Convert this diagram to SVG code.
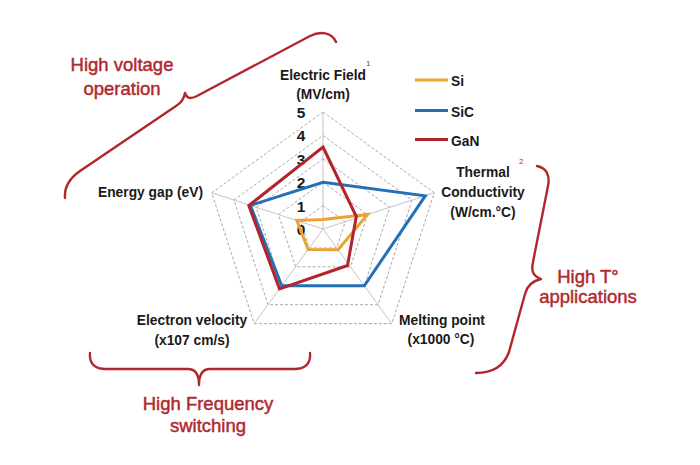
<svg xmlns="http://www.w3.org/2000/svg" width="700" height="465" viewBox="0 0 700 465">
<style>
.lbl{font-family:"Liberation Sans",Arial,sans-serif;font-weight:bold;font-size:13.8px;fill:#1a1a1a}
.num{font-family:"Liberation Sans",Arial,sans-serif;font-weight:bold;font-size:15.5px;fill:#1a1a1a;text-anchor:middle}
.red{font-family:"Liberation Sans",Arial,sans-serif;font-size:18.5px;fill:#b0282e;stroke:#b0282e;stroke-width:0.45;text-anchor:middle}
.sup{font-family:"Liberation Sans",Arial,sans-serif;font-size:8px;fill:#b0282e}
.axis{stroke:#c4c4c4;stroke-width:1;fill:none}
.grid{stroke:#a8a8a8;stroke-width:1;fill:none;stroke-dasharray:3 2}
.brace{stroke:#b0282e;stroke-width:2.4;fill:none;stroke-linecap:round;stroke-linejoin:round}
.si{stroke:#eba234;stroke-width:3;fill:none;stroke-linejoin:miter}
.sic{stroke:#2470b6;stroke-width:3;fill:none;stroke-linejoin:miter}
.gan{stroke:#b3232b;stroke-width:3;fill:none;stroke-linejoin:miter}
</style>
<rect width="700" height="465" fill="#ffffff"/>
<g id="grid">
<polygon class="grid" points="323,205.6 345.25,221.77 336.76,247.93 309.24,247.93 300.75,221.77"/>
<polygon class="grid" points="323,182.2 367.51,214.54 350.52,266.86 295.48,266.86 278.49,214.54"/>
<polygon class="grid" points="323,158.8 389.76,207.31 364.28,285.79 281.72,285.79 256.24,207.31"/>
<polygon class="grid" points="323,135.4 412.01,200.08 378.04,304.72 267.96,304.72 233.99,200.08"/>
<polygon class="grid" points="323,112 434.27,192.85 391.8,323.65 254.2,323.65 211.73,192.85"/>
<path class="axis" d="M323,229 L323,112 M323,229 L434.27,192.85 M323,229 L391.8,323.65 M323,229 L254.2,323.65 M323,229 L211.73,192.85"/>
</g>
<g id="scale">
<text class="num" x="301" y="117.5">5</text>
<text class="num" x="301" y="141">4</text>
<text class="num" x="301" y="164.5">3</text>
<text class="num" x="301" y="188">2</text>
<text class="num" x="301" y="211.5">1</text>
<text class="num" x="301" y="235">0</text>
</g>
<g id="series">
<polygon id="si" class="si" points="323,219.6 367.5,214.5 338.1,249.8 308.1,249.5 296.9,220.5"/>
<polygon id="sic" class="sic" points="323,182.2 425.3,195.8 364.3,285.8 281.7,285.8 250.4,205.4"/>
<polygon id="gan" class="gan" points="323,147 356.3,216.5 347.5,265.5 279.5,288.8 248.8,205.6"/>
</g>
<g id="axis-labels">
<text class="lbl" x="323" y="80" text-anchor="middle">Electric Field</text>
<text class="lbl" x="323" y="99" text-anchor="middle">(MV/cm)</text>
<text class="sup" x="366" y="66">1</text>
<text class="lbl" x="203" y="197" text-anchor="end">Energy gap (eV)</text>
<text class="lbl" x="483" y="177" text-anchor="middle">Thermal</text>
<text class="lbl" x="483" y="197" text-anchor="middle">Conductivity</text>
<text class="lbl" x="483" y="217" text-anchor="middle">(W/cm.°C)</text>
<text class="sup" x="519" y="164">2</text>
<text class="lbl" x="442" y="325" text-anchor="middle">Melting point</text>
<text class="lbl" x="441" y="344" text-anchor="middle">(x1000 °C)</text>
<text class="lbl" x="192" y="325" text-anchor="middle">Electron velocity</text>
<text class="lbl" x="192" y="345" text-anchor="middle">(x107 cm/s)</text>
</g>
<g id="legend">
<line x1="415" y1="80" x2="448" y2="80" stroke="#eba234" stroke-width="3"/>
<text class="lbl" x="451" y="86" font-size="14">Si</text>
<line x1="415" y1="110.5" x2="448" y2="110.5" stroke="#2470b6" stroke-width="3"/>
<text class="lbl" x="451" y="116.5" font-size="14">SiC</text>
<line x1="415" y1="139.5" x2="448" y2="139.5" stroke="#b3232b" stroke-width="3"/>
<text class="lbl" x="451" y="145.5" font-size="14">GaN</text>
</g>
<g id="braces">
<path class="brace" d="M65,198 C64,186 70,178 80,171 L176,106 C181,103 184,99 185,93 C187,99 191,99 197,96 L310,36 C320,31 332,32 336,42"/>
<path class="brace" d="M537,166 C547,168 550,176 548,186 L533,262 C531,271 533,276 541,279 C532,281 527,286 525,294 L509,352 C504,366 492,373 476,373"/>
<path class="brace" d="M90,353 C89,364 95,369 106,369 L188,369 C195,369 199,374 199,385 C199,374 203,369 210,369 L294,369 C305,369 311,364 310,353"/>
</g>
<g id="annotations">
<text class="red" x="122" y="71">High voltage</text>
<text class="red" x="122" y="95">operation</text>
<text class="red" x="588" y="283">High T°</text>
<text class="red" x="588" y="303">applications</text>
<text class="red" x="208" y="410">High Frequency</text>
<text class="red" x="208" y="432">switching</text>
</g>
</svg>
